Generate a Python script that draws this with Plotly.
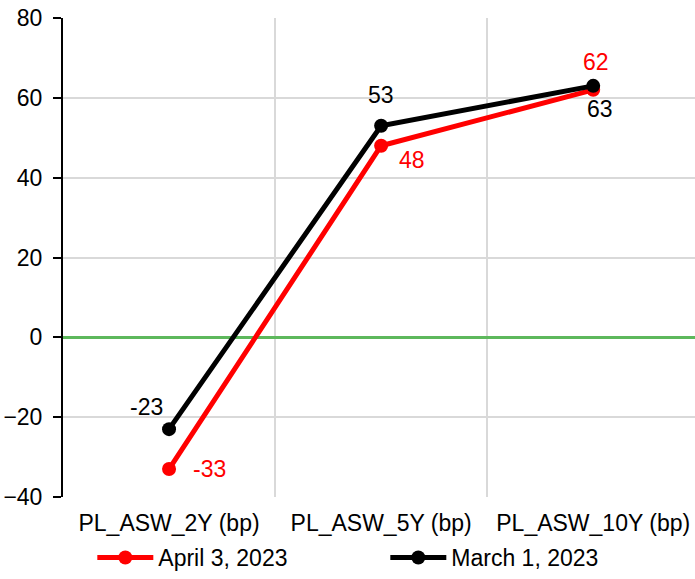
import plotly.graph_objects as go

# Asset swap spreads by tenor
categories = ["PL_ASW_2Y (bp)", "PL_ASW_5Y (bp)", "PL_ASW_10Y (bp)"]
april_3 = [-33, 48, 62]
march_1 = [-23, 53, 63]
series_names = ["April 3, 2023", "March 1, 2023"]

RED = "#FF0000"
BLACK = "#000000"
FONT = "Arial, Liberation Sans, sans-serif"
FS = 23

fig = go.Figure()
fig.add_trace(go.Scatter(
    x=categories, y=april_3, name=series_names[0], mode="lines+markers",
    line=dict(color=RED, width=5), marker=dict(size=14, color=RED),
))
fig.add_trace(go.Scatter(
    x=categories, y=march_1, name=series_names[1], mode="lines+markers",
    line=dict(color=BLACK, width=5), marker=dict(size=14, color=BLACK),
))

# value labels, offset around each point (xshift, yshift in px)
red_offsets = [(40, 0), (31, -14), (3, 28)]
black_offsets = [(-23, 22), (0, 31), (7, -23)]
for vals, offs, col in ((april_3, red_offsets, RED), (march_1, black_offsets, BLACK)):
    for cat, v, (dx, dy) in zip(categories, vals, offs):
        fig.add_annotation(
            x=cat, y=v, text=str(v), showarrow=False,
            xshift=dx, yshift=dy, font=dict(family=FONT, size=FS, color=col),
        )

fig.update_layout(
    width=695, height=579,
    margin=dict(l=63, r=0, t=18, b=82, autoexpand=False),
    paper_bgcolor="white", plot_bgcolor="white",
    font=dict(family=FONT, size=FS, color="black"),
    showlegend=True,
    legend=dict(
        orientation="h", x=0.51, xanchor="center",
        yref="container", y=-0.011, yanchor="bottom",
        font=dict(family=FONT, size=FS, color="black"),
        itemwidth=56, entrywidth=222, tracegroupgap=0,
    ),
)
fig.update_xaxes(
    type="category", range=[-0.5, 2.48], tickson="boundaries",
    showgrid=True, gridcolor="#D9D9D9", gridwidth=2,
    ticks="", showline=False, zeroline=False, automargin=False,
    tickfont=dict(family=FONT, size=FS, color="black"),
    ticklabelstandoff=10,
)
fig.update_yaxes(
    range=[-40, 80], dtick=20, tick0=0, automargin=False,
    showgrid=True, gridcolor="#D9D9D9", gridwidth=2,
    zeroline=True, zerolinecolor="#5DB85C", zerolinewidth=3,
    showline=True, linecolor="black", linewidth=2,
    ticks="outside", ticklen=8, tickwidth=2, tickcolor="black",
    tickfont=dict(family=FONT, size=FS, color="black"),
    ticklabelstandoff=6,
)

fig.write_html("out.html")
